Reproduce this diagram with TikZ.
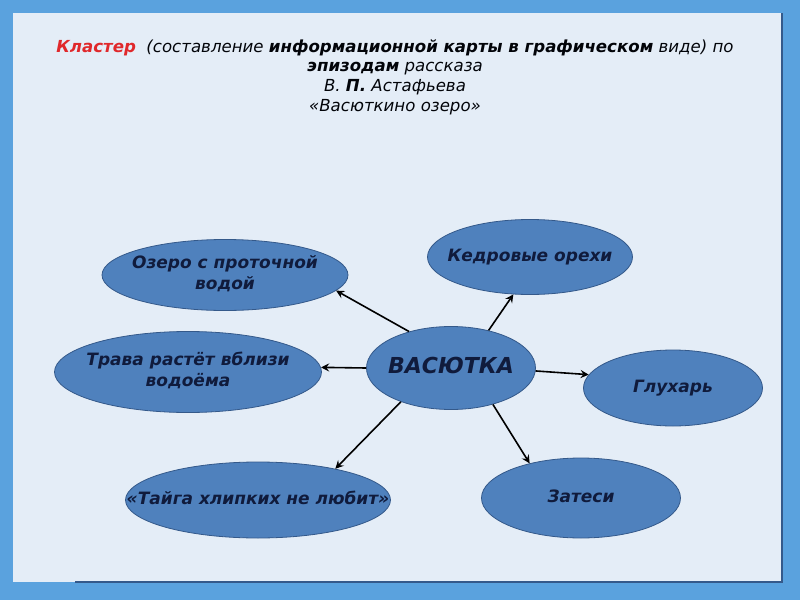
\documentclass[tikz,border=0pt]{standalone}
\usepackage{fontspec}
\setmainfont{DejaVu Sans}
\usetikzlibrary{shapes.geometric, positioning, arrows}

\definecolor{ramka}{HTML}{5AA2DE}
\definecolor{fon}{HTML}{E4EDF7}
\definecolor{oval}{HTML}{4F81BD}
\definecolor{ovalkant}{HTML}{34598A}
\definecolor{tekst}{HTML}{101B3C}
\definecolor{krasn}{HTML}{E0282B}

% текст внутри овала не растягивает овал
\newcommand{\ovaltext}[1]{\makebox[0pt][c]{\begin{tabular}{@{}c@{}}#1\end{tabular}}}

\begin{document}
\begin{tikzpicture}[x=0.5pt, y=-0.5pt]
		% стили узлов
		\tikzstyle{oval} = [ellipse, draw=ovalkant, fill=oval, inner sep=0pt, text=tekst, font=\bfseries\itshape\fontsize{8.5}{10.5}\selectfont]
		\tikzstyle{arrow} = [thick,->,>=stealth]
		
		% фон и рамка
		\fill[ramka] (0,0) rectangle (800,600);
		\fill[fon] (13,13) rectangle (782,582);
		\draw[ovalkant, line width=1pt] (75,582) -- (782,582) -- (782,13);
		\useasboundingbox (0,0) rectangle (800,600);
		
		% заголовок
		\node [align=center, text=black!85!tekst, font=\itshape\fontsize{8.3}{9.8}\selectfont] (zagolovok) at (395,77)
			{{\bfseries\color{krasn}Кластер}\ \ (составление {\bfseries информационной карты в графическом} виде) по\\
			 {\bfseries эпизодам} рассказа\\
			 В. {\bfseries П.} Астафьева\\
			 «Васюткино озеро»};
		
		% узлы
		\node [oval, minimum width=84.5pt, minimum height=41.5pt, font=\bfseries\itshape\fontsize{11}{13}\selectfont] (vasyutka) at (451,368) {\ovaltext{ВАСЮТКА}};
		\node [oval, minimum width=123pt, minimum height=35.5pt] (ozero) at (225,275) {\ovaltext{Озеро с проточной\\водой}};
		\node [oval, minimum width=102.5pt, minimum height=37.5pt] (kedr) at (530,257) {\ovaltext{Кедровые орехи}};
		\node [oval, minimum width=133.5pt, minimum height=40.5pt] (trava) at (188,372) {\ovaltext{Трава растёт вблизи\\водоёма}};
		\node [oval, minimum width=89.5pt, minimum height=38pt] (glukhar) at (673,388) {\ovaltext{Глухарь}};
		\node [oval, minimum width=132.5pt, minimum height=38pt] (taiga) at (258,500) {\ovaltext{«Тайга хлипких не любит»}};
		\node [oval, minimum width=99.5pt, minimum height=40pt] (zatesi) at (581,498) {\ovaltext{Затеси}};
		
		% стрелки
		\draw [arrow] (vasyutka.139) -- (ozero.-8);
		\draw [arrow] (vasyutka.45) -- (kedr.246);
		\draw [arrow] (vasyutka.180) -- (trava.2);
		\draw [arrow] (vasyutka.-2) -- (glukhar.171);
		\draw [arrow] (vasyutka.214) -- (taiga.22);
		\draw [arrow] (vasyutka.-41) -- (zatesi.146);
\end{tikzpicture}
\end{document}
